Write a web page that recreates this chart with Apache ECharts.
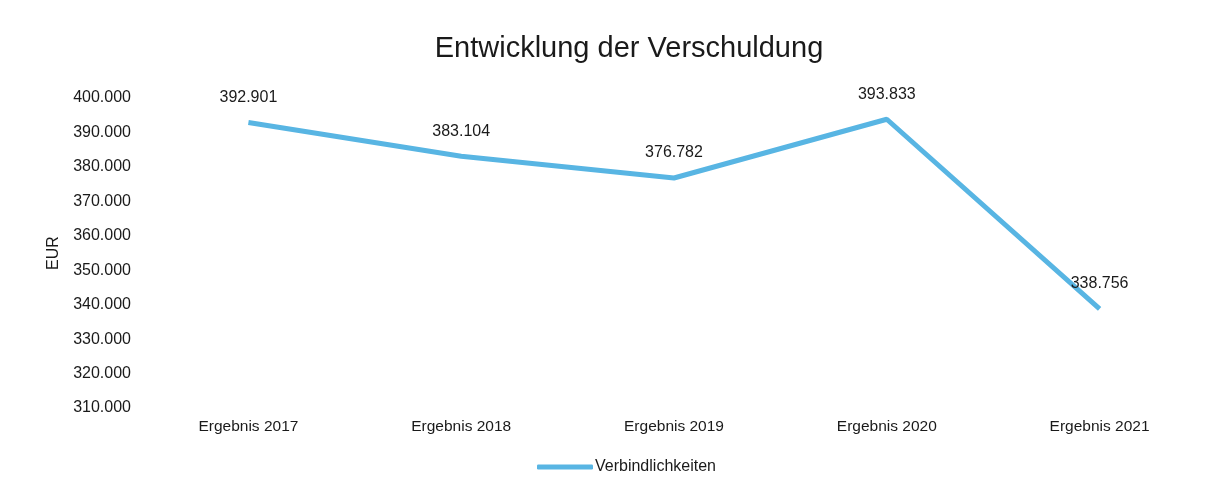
<!DOCTYPE html>
<html><head><meta charset="utf-8">
<script src="https://cdn.jsdelivr.net/npm/echarts@6/dist/echarts.min.js"></script>
<style>html,body{margin:0;padding:0;background:#fff}#c{width:1216px;height:493px}</style>
</head><body><div id="c"></div>
<script>
const categories = ['Ergebnis 2017','Ergebnis 2018','Ergebnis 2019','Ergebnis 2020','Ergebnis 2021'];
const verbindlichkeiten = [392901, 383104, 376782, 393833, 338756];
const seriesName = 'Verbindlichkeiten';
const title = 'Entwicklung der Verschuldung';
const yName = 'EUR';
const fmt = v => Math.round(v).toString().replace(/\B(?=(\d{3})+(?!\d))/g, '.');
const chart = echarts.init(document.getElementById('c'));
chart.setOption({
  backgroundColor:'#fff',
  textStyle:{fontFamily:'Liberation Sans, Arial, sans-serif'},
  title:{text:title,left:624,textAlign:'center',top:29,textStyle:{fontSize:29,fontWeight:'normal',color:'#1a1a1a',fontFamily:'Liberation Sans, Arial, sans-serif'}},
  legend:{bottom:13,left:532,icon:'roundRect',itemWidth:56,itemHeight:5,itemGap:10,
    textStyle:{fontSize:16,color:'#1a1a1a',padding:[0,0,0,-3]},data:[seriesName]},
  grid:{left:142,right:10,top:98,bottom:85},
  xAxis:{type:'category',data:categories,boundaryGap:true,
    axisLine:{show:false},axisTick:{show:false},
    axisLabel:{fontSize:15.5,color:'#1a1a1a',margin:11}},
  yAxis:{type:'value',min:310000,max:400000,interval:10000,name:yName,nameLocation:'middle',nameGap:80,nameRotate:90,
    nameTextStyle:{fontSize:16,color:'#1a1a1a'},
    axisLine:{show:false},axisTick:{show:false},splitLine:{show:false},
    axisLabel:{fontSize:16,color:'#1a1a1a',margin:11,formatter:fmt}},
  series:[{name:seriesName,type:'line',data:verbindlichkeiten,symbol:'circle',symbolSize:0.1,showSymbol:true,
    lineStyle:{width:5,color:'#58b5e3'},itemStyle:{color:'#58b5e3'},
    label:{show:true,position:'top',distance:17,fontSize:16,color:'#1a1a1a',formatter:p=>fmt(p.value)}}]
});
</script></body></html>
